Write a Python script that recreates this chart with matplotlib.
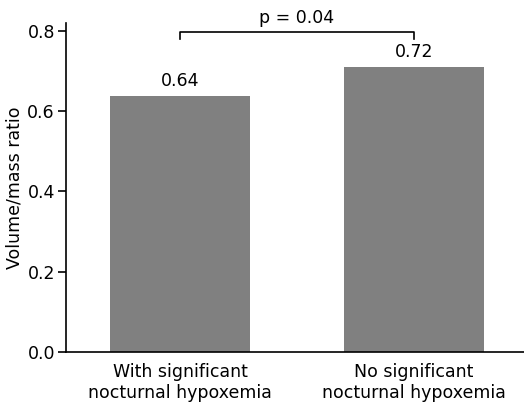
import matplotlib
matplotlib.use('Agg')
import matplotlib.pyplot as plt

# Data
categories = ["With significant\nnocturnal hypoxemia", "No significant\nnocturnal hypoxemia"]
ratios = [0.638, 0.711]
value_labels = ["0.64", "0.72"]
p_text = "p = 0.04"
y_ticks = [0.0, 0.2, 0.4, 0.6, 0.8]

plt.rcParams['font.family'] = ['DejaVu Sans']
FS = 12.5

fig = plt.figure(figsize=(5.24, 4.04), dpi=100)
ax = fig.add_axes([0.126, 0.129, 0.874, 0.814])

x = range(len(categories))
ax.bar(x, ratios, width=0.6, color='#808080')

# value labels above bars
for xi, h, lab in zip(x, ratios, value_labels):
    ax.text(xi, h + 0.014, lab, ha='center', va='bottom', fontsize=FS)

# significance bracket
y_br = 0.798
ax.plot([0, 0, 1, 1], [y_br - 0.018, y_br, y_br, y_br - 0.018], color='black', lw=1.2, clip_on=False)
ax.text(0.5, y_br + 0.012, p_text, ha='center', va='bottom', fontsize=FS)

ax.set_xlim(-0.487, 1.47)
ax.set_ylim(0, 0.82)
ax.set_yticks(y_ticks)
ax.set_yticklabels([f"{t:.1f}" for t in y_ticks], fontsize=FS)
ax.set_xticks(list(x))
ax.set_xticklabels(categories, fontsize=FS)
ax.tick_params(axis='x', length=0, pad=8)
ax.tick_params(axis='y', length=6, width=1.2, direction='out', pad=2)
ax.set_ylabel("Volume/mass ratio", fontsize=FS, labelpad=3)

for side in ['top', 'right']:
    ax.spines[side].set_visible(False)
for side in ['left', 'bottom']:
    ax.spines[side].set_linewidth(1.2)

fig.savefig("out.png", dpi=100)
